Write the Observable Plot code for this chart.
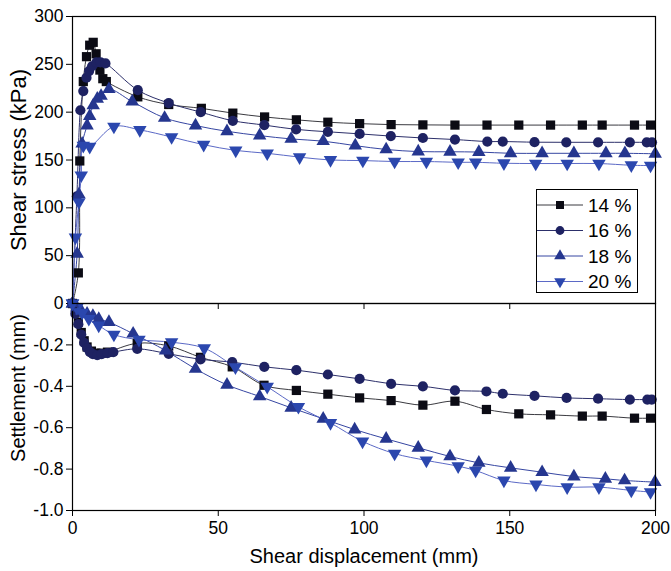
<!DOCTYPE html>
<html><head><meta charset="utf-8">
<script src="https://cdn.jsdelivr.net/npm/d3@7"></script>
<script src="https://cdn.jsdelivr.net/npm/@observablehq/plot@0.6"></script>
<style>
body{margin:0;background:#fff;font-family:"Liberation Sans",Arial,sans-serif;}
#wrap{position:relative;width:671px;height:571px;overflow:hidden;background:#fff;}
#top,#bot,#legend{position:absolute;left:0;}
#top{top:0;} #bot{top:302px;}
</style></head><body><div id="wrap"><div id="bot"></div><div id="top"></div><div id="legend"></div></div>
<script>
// ---- data ----
const seriesNames = ["14 %", "16 %", "18 %", "20 %"];
const xTicks = [0, 50, 100, 150, 200];
const stressTicks = [0, 50, 100, 150, 200, 250, 300];
const settleTicks = [-1.0, -0.8, -0.6, -0.4, -0.2];

const stress14X = [0, 2.0, 2.5, 3.7, 4.8, 5.9, 7.1, 8.1, 9.4, 10.4, 11.6, 22.4, 33, 44.2, 55, 65.9, 76.8, 87.6, 98.5, 109.3, 120.2, 131.2, 142.2, 153.1, 164, 174.9, 181.7, 192.8, 198.3];
const stress14Y = [0, 32, 149, 232, 258, 270, 273, 261, 244, 235, 232, 216, 208, 204, 199, 195, 192, 189.5, 188, 187, 186.7, 186.5, 186.5, 186.5, 186.5, 186.5, 186.5, 186.5, 186.5];
const stress16X = [0, 1.5, 2.7, 3.7, 4.8, 5.7, 6.7, 8.2, 9.6, 11.3, 22.4, 33, 44, 55, 65.8, 76.7, 87.6, 98.5, 109.2, 120.2, 131.2, 142.3, 147.6, 158.5, 169.4, 180.3, 191.2, 197, 198.8];
const stress16Y = [0, 112, 202, 222, 236, 243, 248, 252, 252, 251, 223, 209.5, 200, 191, 186.5, 182, 179.5, 177.3, 175, 173, 171.4, 169.3, 169.3, 168.6, 168.5, 168.5, 168.5, 168.5, 168.5];
const stress18X = [0, 1.6, 2.2, 3.3, 5.0, 5.9, 7.1, 8.5, 9.8, 12.5, 20.5, 31.6, 42.2, 53, 64.2, 75, 86, 97, 107.6, 118.6, 129.5, 139.4, 150.3, 161.1, 172, 183, 189.5, 199.9];
const stress18Y = [0, 52, 114, 167, 186, 196, 207, 214, 217, 224, 211, 194, 186, 180, 175.5, 172, 169.7, 165, 161, 158.8, 158.6, 158.3, 157, 157, 157, 157, 157, 156.5];
const stress20X = [0, 1.0, 2.2, 3.0, 3.7, 5.9, 14.2, 23.1, 34, 45, 56, 66.8, 77.9, 88.5, 99.6, 110.5, 121.4, 132.3, 138.3, 148, 158.9, 169.7, 180.6, 191.7, 198.3];
const stress20Y = [0, 69, 106, 134, 165, 164, 185, 181.5, 174, 166, 160, 157, 153, 150, 149.4, 148.4, 148.4, 147.6, 147.6, 146.6, 146.3, 146.3, 146.3, 144.5, 144.2];

const settle14X = [0, 1, 2, 3, 4, 5, 6.5, 8, 10, 12, 22.2, 33, 43.9, 54.8, 65.7, 76.8, 87.6, 98.5, 109.3, 120.2, 131.2, 142, 153.1, 164, 174.9, 181.7, 192.8, 198.3];
const settle14Y = [0, -0.04, -0.09, -0.14, -0.18, -0.21, -0.23, -0.24, -0.24, -0.235, -0.192, -0.205, -0.26, -0.306, -0.395, -0.42, -0.438, -0.456, -0.469, -0.491, -0.472, -0.512, -0.533, -0.538, -0.544, -0.544, -0.554, -0.554];
const settle16X = [0, 1, 2, 3, 4, 5, 6, 7, 8.5, 10, 12, 14, 22.2, 33, 43.9, 54.8, 65.8, 76.8, 87.6, 98.5, 109.3, 120.2, 131.2, 142, 147.6, 158.5, 169.5, 180.3, 191.2, 197.2, 198.7];
const settle16Y = [0, -0.05, -0.1, -0.15, -0.19, -0.215, -0.235, -0.245, -0.25, -0.245, -0.24, -0.235, -0.219, -0.243, -0.27, -0.283, -0.306, -0.322, -0.343, -0.364, -0.388, -0.4, -0.42, -0.425, -0.436, -0.446, -0.456, -0.46, -0.464, -0.464, -0.464];
const settle18X = [0, 1.5, 3, 5, 7, 9, 12.5, 20.8, 31.9, 42.2, 53, 64.2, 75, 86, 96.8, 107.6, 118.6, 129.5, 139.4, 150.3, 161.1, 172, 182.8, 189.4, 199.8];
const settle18Y = [0, -0.02, -0.035, -0.05, -0.06, -0.075, -0.09, -0.146, -0.227, -0.316, -0.393, -0.449, -0.504, -0.557, -0.609, -0.654, -0.697, -0.739, -0.77, -0.794, -0.815, -0.836, -0.847, -0.855, -0.863];
const settle20X = [0, 1.5, 3.3, 5.6, 9, 14.2, 22.8, 34, 45.2, 55.9, 66.8, 77.5, 88.5, 99.5, 110.5, 121.4, 132.3, 138.3, 148, 159, 169.7, 180.6, 191.7, 198.3];
const settle20Y = [0, -0.02, -0.045, -0.074, -0.106, -0.15, -0.175, -0.187, -0.216, -0.308, -0.402, -0.499, -0.577, -0.666, -0.725, -0.758, -0.786, -0.807, -0.855, -0.874, -0.887, -0.887, -0.903, -0.911];

// ---- styling ----
const markerColors = ["#0b0b14", "#1e2262", "#25368f", "#2b47ae"];
const lineColors = ["#3a3a40", "#2c2f6a", "#3646a2", "#5b69c6"];
const symbols = ["square", "circle", "triangle", "triangle"];
const rotations = [0, 0, 0, 180];
const radii = [5.2, 5.1, 5, 5];
const FONT = '"Liberation Sans", Arial, sans-serif';

const zip = (xs, ys, s) => xs.map((x, i) => ({x, y: ys[i], s}));
const stressData = [
  zip(stress14X, stress14Y, 0), zip(stress16X, stress16Y, 1),
  zip(stress18X, stress18Y, 2), zip(stress20X, stress20Y, 3)
];
const settleData = [
  zip(settle14X, settle14Y, 0), zip(settle16X, settle16Y, 1),
  zip(settle18X, settle18Y, 2), zip(settle20X, settle20Y, 3)
];

function seriesMarks(sets) {
  const lines = sets.map((d, i) => Plot.line(d, {x: "x", y: "y", curve: "catmull-rom", stroke: lineColors[i], strokeWidth: 1}));
  const dots = sets.map((d, i) => Plot.dot(d, {x: "x", y: "y", symbol: symbols[i], rotate: rotations[i], r: radii[i], fill: markerColors[i], stroke: "none"}));
  return [...lines, ...dots];
}

const topPlot = Plot.plot({
  width: 671, height: 304,
  marginTop: 16, marginLeft: 72, marginRight: 16, marginBottom: 1,
  x: {domain: [0, 200]},
  y: {domain: [0, 300]},
  style: {fontFamily: FONT, fontSize: "17.5px", color: "#000", overflow: "visible", background: "transparent"},
  marks: [
    Plot.axisY({ticks: stressTicks, tickSize: 6, tickPadding: 3, label: null, tickFormat: d => String(d)}),
    Plot.axisX({ticks: [50, 100, 150], tickSize: 6, tickFormat: () => "", label: null}),
    ...seriesMarks(stressData),
    Plot.frame({stroke: "#000", strokeWidth: 1.2}),
    Plot.text(["Shear stress (kPa)"], {frameAnchor: "left", textAnchor: "middle", dx: -54, rotate: -90, fontSize: 22, text: d => d, fill: "#000"})
  ]
});

const botPlot = Plot.plot({
  width: 671, height: 269,
  marginTop: 1, marginLeft: 72, marginRight: 16, marginBottom: 61,
  x: {domain: [0, 200]},
  y: {domain: [-1, 0]},
  style: {fontFamily: FONT, fontSize: "17.5px", color: "#000", overflow: "visible", background: "transparent"},
  marks: [
    Plot.axisY({ticks: settleTicks, tickSize: 6, tickPadding: 3, label: null, tickFormat: d => d.toFixed(1)}),
    Plot.axisX({ticks: xTicks, tickSize: 6, tickPadding: 5, label: null, tickFormat: d => String(d)}),
    ...seriesMarks(settleData),
    Plot.frame({stroke: "#000", strokeWidth: 1.2}),
    Plot.text(["Settlement (mm)"], {frameAnchor: "left", textAnchor: "middle", dx: -54, dy: -19, rotate: -90, fontSize: 20, text: d => d, fill: "#000"}),
    Plot.text(["Shear displacement (mm)"], {frameAnchor: "bottom", textAnchor: "middle", dy: 52, fontSize: 20, text: d => d, fill: "#000"})
  ]
});

document.getElementById("top").appendChild(topPlot);
document.getElementById("bot").appendChild(botPlot);

// ---- legend ----
const lg = d3.select("#legend").style("left", "536px").style("top", "189px")
  .append("svg").attr("width", 102).attr("height", 104);
lg.append("rect").attr("x", 0.5).attr("y", 0.5).attr("width", 101).attr("height", 103)
  .attr("fill", "#fff").attr("stroke", "#000").attr("stroke-width", 1);
const symMap = {square: d3.symbolSquare, circle: d3.symbolCircle, triangle: d3.symbolTriangle};
seriesNames.forEach((name, i) => {
  const y = 16 + i * 25.5;
  lg.append("line").attr("x1", 1).attr("x2", 47).attr("y1", y).attr("y2", y)
    .attr("stroke", lineColors[i]).attr("stroke-width", 1);
  lg.append("path").attr("d", d3.symbol(symMap[symbols[i]], Math.PI * radii[i] * radii[i] * 0.75)())
    .attr("transform", `translate(24,${y}) rotate(${rotations[i]})`).attr("fill", markerColors[i]);
  lg.append("text").attr("x", 52).attr("y", y).attr("dy", "0.36em")
    .attr("font-family", FONT).attr("font-size", 19).attr("fill", "#000").text(name);
});
</script>
</body></html>
